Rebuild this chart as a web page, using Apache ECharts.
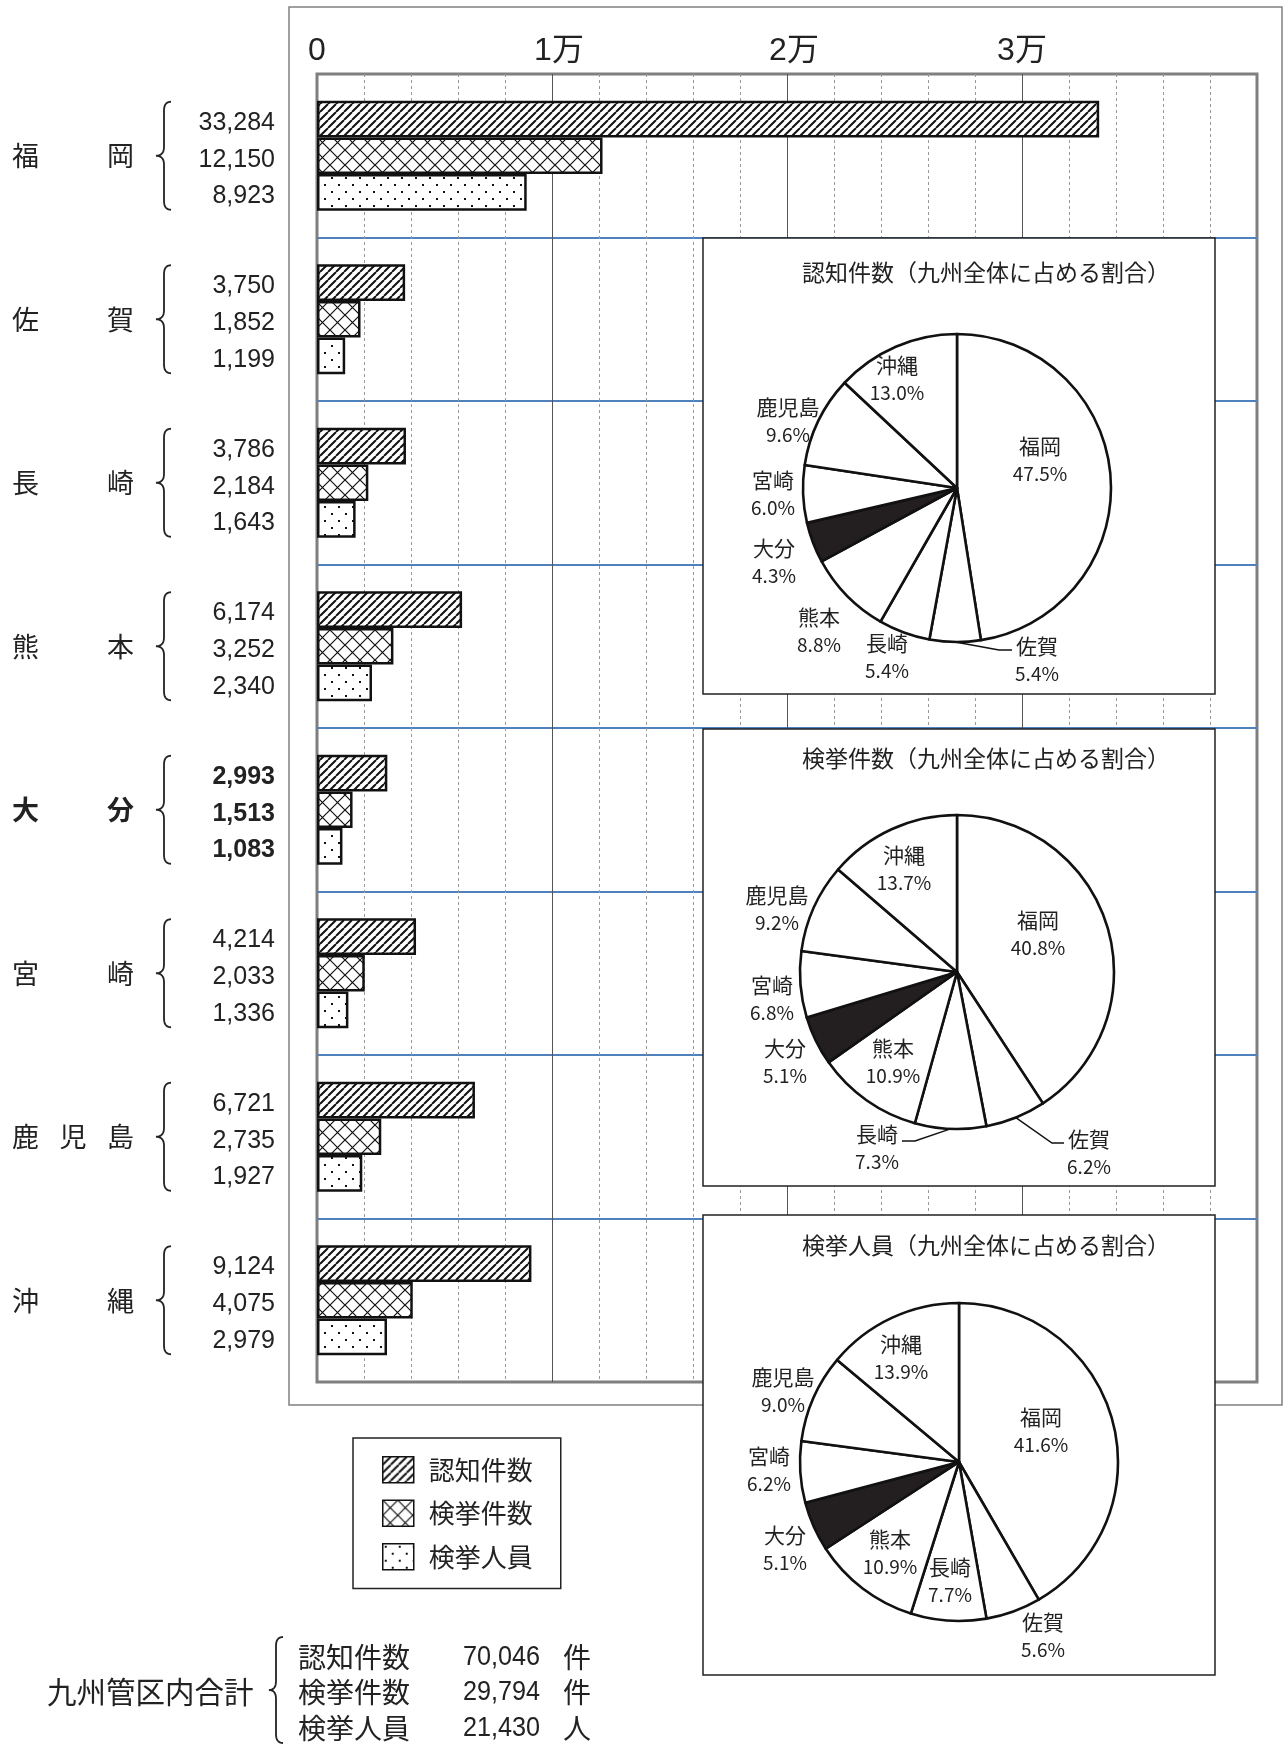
<!DOCTYPE html>
<html><head><meta charset="utf-8">
<script src="https://cdn.jsdelivr.net/npm/echarts@6/dist/echarts.min.js"></script>
<style>html,body{margin:0;padding:0;background:#fff}#c{width:1283px;height:1747px}</style>
</head><body><div id="c"></div>
<script>
// ---------- data ----------
const prefectures = ['福岡','佐賀','長崎','熊本','大分','宮崎','鹿児島','沖縄'];
const seriesNames = ['認知件数','検挙件数','検挙人員'];
const ninchiKensu = [33284,3750,3786,6174,2993,4214,6721,9124];
const kenkyoKensu = [12150,1852,2184,3252,1513,2033,2735,4075];
const kenkyoJinin = [8923,1199,1643,2340,1083,1336,1927,2979];
const xTickLabels = ['0','1万','2万','3万',''];
const pieTitles = ['認知件数（九州全体に占める割合）','検挙件数（九州全体に占める割合）','検挙人員（九州全体に占める割合）'];
const totalsLabel = '九州管区内合計';
const totalsUnits = ['件','件','人'];
const boldCategory = '大分';
const blackSlice = '大分';

// ---------- styling ----------
const CJK = '"Noto Sans CJK JP", sans-serif';
const NUM = '"Liberation Sans", Arial, sans-serif';
const INK = '#222';

function mkCanvas(w,h){const c=document.createElement('canvas');c.width=w;c.height=h;const g=c.getContext('2d');g.fillStyle='#fff';g.fillRect(0,0,w,h);return [c,g];}
function hatchPattern(){const p=8;const [c,g]=mkCanvas(p,p);g.strokeStyle='#111';g.lineWidth=2;g.beginPath();for(let k=-1;k<=1;k++){g.moveTo(k*p,p);g.lineTo(k*p+p,0);}g.stroke();return c;}
function crossPattern(){const p=15;const [c,g]=mkCanvas(p,p);g.strokeStyle='#111';g.lineWidth=1.2;g.beginPath();for(let k=-1;k<=1;k++){g.moveTo(k*p,p);g.lineTo(k*p+p,0);g.moveTo(k*p,0);g.lineTo(k*p+p,p);}g.stroke();return c;}
function dotPattern(){const [c,g]=mkCanvas(14,14);g.fillStyle='#111';g.fillRect(2,2,2,2);g.fillRect(9,9,2,2);return c;}
const patterns = [hatchPattern(), crossPattern(), dotPattern()];
const barArrays = [ninchiKensu, kenkyoKensu, kenkyoJinin];

// pie layout (label offsets relative to pie centre; leader elbows)
const pieCenters = [[957,488],[957,972],[959,1462]];
const pieRadius = [154,157,159];
const pieLabelOffsets = [
  [[83,-28],[80,172],[-70,169],[-138,143],[-183,74],[-184,6],[-169,-67],[-60,-109]],
  [[81,-38],[132,181],[-80,176],[-64,90],[-172,90],[-185,27],[-180,-63],[-53,-103]],
  [[82,-31],[84,174],[-9,119],[-69,91],[-174,87],[-190,8],[-176,-71],[-58,-104]]
];
const pieLeaders = [
  {1:[[42,162],[55,162]]},
  {1:[[95,171],[107,171]], 2:[[-42,169],[-55,169]]},
  {}
];
const pieBoxes = [[703,238,512,456],[703,729,512,457],[703,1215,512,460]];
const pieTitleY = [272,758,1245];

function fmt(v){return v.toLocaleString('en-US');}
function sum(a){return a.reduce((s,v)=>s+v,0);}

const chart = echarts.init(document.getElementById('c'), null, {renderer:'canvas'});

const barSeries = barArrays.map((arr,i)=>({
  type:'bar', name:seriesNames[i], z:3,
  data: arr.map((v,j)=> prefectures[j]===boldCategory ? {value:v,label:{fontWeight:'bold'}} : v),
  barGap:'0%', barCategoryGap:'32.7%',
  itemStyle:{color:{image:patterns[i],repeat:'repeat'}, borderColor:'#111', borderWidth:2.5},
  label:{show:true, position:'left', distance:42, offset:[0,4], formatter:p=>fmt(p.value), fontSize:25, color:INK, fontFamily:NUM},
  emphasis:{disabled:true}
}));

const pieSeries = barArrays.map((arr,k)=>{
  const total = sum(arr);
  const [cx,cy] = pieCenters[k];
  const r = pieRadius[k];
  const mids = []; let acc = 0;
  arr.forEach(v=>{ mids.push((acc + v/2)/total*2*Math.PI); acc += v; });
  return {
    type:'pie', z:12, center:[cx,cy], radius:r, startAngle:90, clockwise:true,
    avoidLabelOverlap:false, silent:true, emphasis:{disabled:true},
    data: prefectures.map((n,j)=>({name:n, value:arr[j],
      itemStyle:{color: n===blackSlice ? '#231f20' : '#fff'},
      labelLine:{show: pieLeaders[k][j]!=null}})),
    itemStyle:{borderColor:'#111', borderWidth:2.6},
    label:{show:true, position:'outside', color:INK, fontFamily:CJK,
      formatter:p=>'{n|'+p.name+'}\n{p|'+(p.value/total*100).toFixed(1)+'%}',
      rich:{n:{fontSize:21, lineHeight:28, fontFamily:CJK, color:INK}, p:{fontSize:19, lineHeight:28, fontFamily:CJK, color:INK}}},
    labelLine:{lineStyle:{color:'#111', width:1.5}, length:10, length2:10},
    labelLayout:function(p){
      const o = pieLabelOffsets[k][p.dataIndex];
      const res = {x:cx+o[0], y:cy+o[1], align:'center', verticalAlign:'middle'};
      const L = pieLeaders[k][p.dataIndex];
      if (L) {
        const a = mids[p.dataIndex];
        res.labelLinePoints = [[cx + r*Math.sin(a), cy - r*Math.cos(a)], [cx+L[0][0], cy+L[0][1]], [cx+L[1][0], cy+L[1][1]]];
      }
      return res;
    }
  };
});

const rich = {
  a:{width:95, fontSize:27, fontFamily:CJK, color:INK, align:'left'},
  b:{width:47.5, fontSize:27, fontFamily:CJK, color:INK, align:'left'},
  z:{fontSize:27, fontFamily:CJK, color:INK},
  ab:{width:95, fontSize:27, fontFamily:CJK, color:INK, fontWeight:'bold', align:'left'},
  bb:{width:47.5, fontSize:27, fontFamily:CJK, color:INK, fontWeight:'bold', align:'left'},
  zb:{fontSize:27, fontFamily:CJK, color:INK, fontWeight:'bold'}
};

const XF = '"Liberation Sans", "Noto Sans CJK JP", sans-serif';
const option = {
  animation:false,
  backgroundColor:'#fff',
  grid:{left:317, top:74, width:940, height:1308, show:true, borderColor:'#7f7f7f', borderWidth:3, backgroundColor:'transparent', containLabel:false},
  xAxis:{type:'value', position:'top', min:0, max:40000, interval:10000,
    axisLine:{show:false}, axisTick:{show:false},
    axisLabel:{margin:7, fontSize:32, color:INK, fontFamily:XF,
      formatter:v=>{const i=Math.round(v/10000); const t=xTickLabels[i]; return (i===1||i===2) ? '{s|'+t+'}' : t;},
      rich:{s:{fontSize:32, color:INK, fontFamily:XF, padding:[0,0,0,14]}}},
    splitLine:{show:true, showMinLine:false, showMaxLine:false, lineStyle:{color:'#555', width:1}},
    minorTick:{show:false, splitNumber:5},
    minorSplitLine:{show:true, lineStyle:{color:'#999', width:1, type:[3,3]}}
  },
  yAxis:{type:'category', inverse:true, data:prefectures,
    axisLine:{show:false}, axisTick:{show:false},
    splitLine:{show:true, showMinLine:false, showMaxLine:false, lineStyle:{color:'#4f81bd', width:2}},
    axisLabel:{interval:0, margin:183, align:'right', rich:rich,
      formatter:(name)=>{
        const chars = name.split(''); const b = name===boldCategory;
        const mid = chars.length===2 ? (b?'ab':'a') : (b?'bb':'b');
        const last = b?'zb':'z';
        return chars.map((c,i)=> i<chars.length-1 ? '{'+mid+'|'+c+'}' : '{'+last+'|'+c+'}').join('');
      }}
  },
  legend:{data:seriesNames, orient:'vertical', left:353, top:1438, icon:'rect',
    itemWidth:31, itemHeight:26, itemGap:16, padding:[18,28,18,29],
    borderColor:INK, borderWidth:1.5, selectedMode:false,
    formatter:n=>'{t|'+n+'}',
    textStyle:{fontSize:26, color:INK, fontFamily:CJK, rich:{t:{fontSize:26, color:INK, fontFamily:CJK, padding:[0,0,0,10]}}},
    itemStyle:{borderColor:'#111', borderWidth:1.5}},
  series: barSeries.concat(pieSeries)
};
chart.setOption(option);

// ---------- decorations ----------
function quad(p0,p1,p2,n){const pts=[];for(let i=1;i<=n;i++){const t=i/n,u=1-t;pts.push([u*u*p0[0]+2*u*t*p1[0]+t*t*p2[0], u*u*p0[1]+2*u*t*p1[1]+t*t*p2[1]]);}return pts;}
function bracePoints(tipX, stemX, endX, yc, h){
  const r = 9, n = 10;
  let pts = [[endX, yc-h]];
  pts = pts.concat(quad([endX,yc-h],[stemX,yc-h],[stemX,yc-h+r],n));
  pts.push([stemX, yc-r]);
  pts = pts.concat(quad([stemX,yc-r],[stemX,yc],[tipX,yc],n));
  pts = pts.concat(quad([tipX,yc],[stemX,yc],[stemX,yc+r],n));
  pts.push([stemX, yc+h-r]);
  pts = pts.concat(quad([stemX,yc+h-r],[stemX,yc+h],[endX,yc+h],n));
  return pts;
}
const els = [];
els.push({type:'rect', z:0, shape:{x:289,y:7,width:993,height:1398}, style:{fill:'none', stroke:'#808080', lineWidth:1.5}});
prefectures.forEach(p=>{
  const yc = chart.convertToPixel({yAxisIndex:0}, p);
  els.push({type:'polyline', z:5, shape:{points:bracePoints(156,164,171,yc,54)}, style:{fill:null, stroke:INK, lineWidth:1.8}});
});
pieBoxes.forEach((b,k)=>{
  els.push({type:'rect', z:10, shape:{x:b[0],y:b[1],width:b[2],height:b[3]}, style:{fill:'#fff', stroke:INK, lineWidth:1.5}});
  els.push({type:'text', z:11, x:986, y:pieTitleY[k], style:{text:pieTitles[k], fill:INK, font:'23px '+CJK, align:'center', verticalAlign:'middle'}});
});
// totals block
els.push({type:'text', z:5, x:47, y:1692, style:{text:totalsLabel, fill:INK, font:'29.5px '+CJK, verticalAlign:'middle'}});
els.push({type:'polyline', z:5, shape:{points:bracePoints(269,276,283,1690,53)}, style:{fill:null, stroke:INK, lineWidth:1.8}});
const rowY = [1657,1692,1728];
barArrays.forEach((arr,i)=>{
  els.push({type:'text', z:5, x:298, y:rowY[i], style:{text:seriesNames[i], fill:INK, font:'28px '+CJK, verticalAlign:'middle'}});
  els.push({type:'text', z:5, x:540, y:rowY[i], scaleX:0.9, style:{text:fmt(sum(arr)), fill:INK, font:'28px '+NUM, align:'right', verticalAlign:'middle'}});
  els.push({type:'text', z:5, x:563, y:rowY[i], style:{text:totalsUnits[i], fill:INK, font:'28px '+CJK, verticalAlign:'middle'}});
});
chart.setOption({graphic:{elements:els}});
</script></body></html>
